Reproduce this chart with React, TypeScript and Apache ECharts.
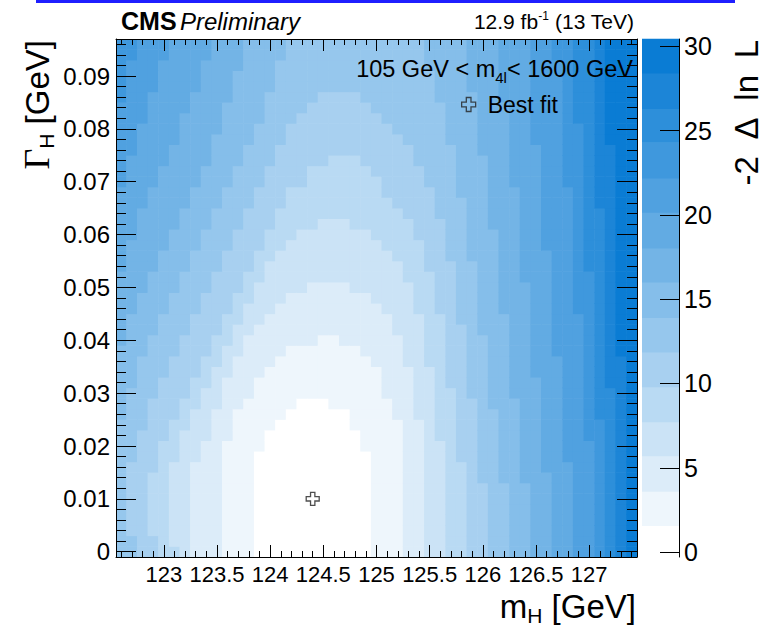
import { useEffect, useRef } from "react";
import * as echarts from "echarts";

const FONT = '"Liberation Sans", Arial, Helvetica, sans-serif';
const SERIF = '"Liberation Serif", "DejaVu Serif", serif';

// Scan binning: m_H (GeV) along x, Γ_H (GeV) along y
const massMin = 122.55;
const massMax = 127.45;
const massStep = 0.1;
const massBins = 49;
const widthMin = -0.001;
const widthMax = 0.097;
const widthStep = 0.002;
const widthBins = 49;

const massTicks = [123, 123.5, 124, 124.5, 125, 125.5, 126, 126.5, 127];
const widthTicks = [0, 0.01, 0.02, 0.03, 0.04, 0.05, 0.06, 0.07, 0.08, 0.09];
const nllTicks = [0, 5, 10, 15, 20, 25, 30];

// -2ΔlnL palette: range and the upper edge of each colour band
const nllRange = [-0.29, 30.43];
const contourLevels = [1.56, 3.6, 5.7, 7.72, 9.79, 11.86, 13.9, 16.0, 18.03, 20.15, 22.17, 24.29, 26.3, 28.4];
const bandColors = [
  "#ffffff", "#eef6fc", "#dcecf9", "#cbe3f6", "#b9daf3", "#a8d0f0", "#96c7ed", "#85beea",
  "#73b4e6", "#62abe3", "#50a1e0", "#3f98dd", "#2d8fda", "#1c85d7", "#0a7cd4",
];

// Contour regions (band < n for the n-th entry), described as staircases over the bins:
// highest Γ row reached, and [from row, column] steps of the left and right edges.
const contourTop = [14, 20, 25, 31, 37, 43, 48, 48, 48, 48, 48, 48, 48, 48];
const contourLeft = [
  [[0, 13], [10, 14], [12, 15], [13, 16], [14, 17]],
  [[0, 10], [11, 11], [14, 12], [15, 13], [17, 14], [18, 15], [19, 16], [20, 19]],
  [[0, 7], [9, 8], [11, 9], [14, 10], [17, 11], [19, 12], [21, 13], [22, 14], [23, 15], [24, 16], [25, 18]],
  [[0, 6], [1, 5], [9, 6], [12, 7], [14, 8], [16, 9], [18, 10], [20, 11], [22, 12], [24, 13], [26, 14], [28, 15], [29, 16], [30, 17], [31, 19]],
  [[0, 4], [2, 3], [8, 4], [11, 5], [13, 6], [15, 7], [17, 8], [19, 9], [21, 10], [23, 11], [25, 12], [27, 13], [29, 14], [31, 15], [33, 16], [35, 18], [37, 20]],
  [[0, 2], [2, 1], [9, 2], [12, 3], [15, 4], [17, 5], [19, 6], [21, 7], [23, 8], [25, 9], [27, 10], [29, 11], [31, 12], [33, 13], [35, 14], [37, 15], [39, 16], [41, 17], [42, 18], [43, 19]],
  [[0, 0], [13, 1], [16, 2], [19, 3], [21, 4], [23, 5], [25, 6], [27, 7], [29, 8], [31, 9], [33, 10], [35, 11], [37, 12], [39, 13], [41, 14], [44, 15], [47, 16]],
  [[0, 0], [20, 1], [23, 2], [25, 3], [27, 4], [29, 5], [31, 6], [33, 7], [35, 8], [37, 9], [40, 10], [43, 11], [46, 12]],
  [[0, 0], [27, 1], [30, 2], [33, 3], [35, 4], [37, 5], [39, 6], [42, 7], [44, 8], [47, 9]],
  [[0, 0], [35, 1], [38, 2], [41, 3], [44, 4], [47, 5]],
  [[0, 0], [43, 1], [47, 2]],
  [[0, 0]],
  [[0, 0]],
  [[0, 0]],
];
const contourRight = [
  [[0, 23], [10, 22], [12, 21], [14, 19]],
  [[0, 26], [13, 25], [15, 24], [18, 23], [19, 22], [20, 20]],
  [[0, 28], [13, 27], [18, 26], [21, 25], [23, 24], [24, 23], [25, 21]],
  [[0, 30], [11, 29], [18, 28], [23, 27], [26, 26], [28, 25], [29, 24], [30, 23], [31, 21]],
  [[0, 32], [9, 31], [16, 30], [23, 29], [27, 28], [30, 27], [32, 26], [33, 25], [34, 24], [36, 23], [37, 22]],
  [[0, 34], [7, 33], [15, 32], [22, 31], [28, 30], [32, 29], [35, 28], [37, 27], [39, 26], [40, 25], [41, 24], [42, 23], [43, 22]],
  [[0, 36], [7, 35], [14, 34], [21, 33], [28, 32], [34, 31], [39, 30], [43, 29], [46, 28]],
  [[0, 38], [7, 37], [15, 36], [23, 35], [31, 34], [38, 33], [44, 32]],
  [[0, 40], [8, 39], [17, 38], [26, 37], [35, 36], [43, 35]],
  [[0, 42], [9, 41], [19, 40], [29, 39], [39, 38]],
  [[0, 44], [11, 43], [23, 42], [35, 41], [47, 40]],
  [[0, 45], [13, 44], [27, 43], [41, 42]],
  [[0, 46], [16, 45], [33, 44]],
  [[0, 47], [19, 46], [39, 45]],
];

const bestFit = [124.4, 0.01];

const CROSS = "path://M4,0H8V4H12V8H8V12H4V8H0V4H4Z";

function edgeAt(steps: number[][], row: number): number {
  let col = steps[0][1];
  for (const [from, c] of steps) if (row >= from) col = c;
  return col;
}

function buildCells(): number[][] {
  const cells: number[][] = [];
  for (let k = 0; k < massBins; k++) {
    for (let i = 0; i < widthBins; i++) {
      let band = 0;
      for (let n = 0; n < contourTop.length; n++) {
        const inside =
          i <= contourTop[n] && k >= edgeAt(contourLeft[n], i) && k <= edgeAt(contourRight[n], i);
        if (!inside) band++;
      }
      const m = Math.round((massMin + massStep * (k + 0.5)) * 1000) / 1000;
      const w = Math.round((widthMin + widthStep * (i + 0.5)) * 100000) / 100000;
      cells.push([m, w, band]);
    }
  }
  return cells;
}

function buildPalette(): number[][] {
  const rows: number[][] = [];
  for (let b = 0; b < bandColors.length; b++) {
    const lo = b === 0 ? nllRange[0] : contourLevels[b - 1];
    const hi = b === contourLevels.length ? nllRange[1] : contourLevels[b];
    rows.push([0.5, lo, hi, b]);
  }
  return rows;
}

function buildOption() {
  const black = { color: "#000", width: 1 };
  const massAxis = {
    type: "value",
    gridIndex: 0,
    min: massMin,
    max: massMax,
    splitNumber: 10,
    z: 10,
    axisLine: { show: true, onZero: false, lineStyle: black },
    axisTick: { show: true, inside: true, length: 12, customValues: massTicks, lineStyle: black },
    minorTick: { show: true, splitNumber: 5, length: 6, lineStyle: black },
    splitLine: { show: false },
    minorSplitLine: { show: false },
  };
  const widthAxis = {
    type: "value",
    gridIndex: 0,
    min: widthMin,
    max: widthMax,
    splitNumber: 10,
    z: 10,
    axisLine: { show: true, onZero: false, lineStyle: black },
    axisTick: { show: true, inside: true, length: 20, customValues: widthTicks, lineStyle: black },
    minorTick: { show: true, splitNumber: 5, length: 10, lineStyle: black },
    splitLine: { show: false },
    minorSplitLine: { show: false },
  };

  const label = (text: string) => ({ text, fill: "#000", fontFamily: FONT });

  return {
    animation: false,
    backgroundColor: "#ffffff",
    grid: [
      { left: 116, top: 39, width: 521, height: 518 },
      { left: 642, top: 39, width: 37, height: 518 },
    ],
    xAxis: [
      {
        ...massAxis,
        position: "bottom",
        axisLabel: {
          customValues: massTicks,
          formatter: (v: number) => String(v),
          fontSize: 22,
          fontFamily: FONT,
          color: "#000",
          margin: 6,
        },
      },
      { ...massAxis, position: "top", axisLabel: { show: false } },
      { type: "value", gridIndex: 1, min: 0, max: 1, show: false },
    ],
    yAxis: [
      {
        ...widthAxis,
        position: "left",
        axisLabel: {
          customValues: widthTicks,
          formatter: (v: number) => (v === 0 ? "0" : v.toFixed(2)),
          fontSize: 24,
          fontFamily: FONT,
          color: "#000",
          margin: 6,
        },
      },
      { ...widthAxis, position: "right", axisLabel: { show: false } },
      {
        type: "value",
        gridIndex: 1,
        min: nllRange[0],
        max: nllRange[1],
        position: "right",
        splitNumber: 6,
        z: 10,
        axisLine: { show: true, onZero: false, lineStyle: black },
        axisTick: { show: true, inside: true, length: 19, customValues: nllTicks, lineStyle: black },
        axisLabel: {
          customValues: nllTicks,
          fontSize: 25,
          fontFamily: FONT,
          color: "#000",
          margin: 5,
        },
        splitLine: { show: false },
      },
    ],
    legend: {
      data: [{ name: "Best fit", icon: CROSS }],
      left: 456,
      top: 88,
      z: 20,
      itemWidth: 14,
      itemHeight: 14,
      textStyle: { fontSize: 23, fontFamily: FONT, color: "#000", padding: [0, 0, 0, 7] },
      itemStyle: { color: "rgba(0,0,0,0)", borderColor: "#222", borderWidth: 1.3 },
    },
    series: [
      {
        type: "custom",
        name: "scan",
        xAxisIndex: 0,
        yAxisIndex: 0,
        silent: true,
        clip: true,
        encode: { x: 0, y: 1 },
        data: buildCells(),
        renderItem: (_params: any, api: any) => {
          const m = api.value(0);
          const w = api.value(1);
          const band = api.value(2);
          const a = api.coord([m - massStep / 2, w + widthStep / 2]);
          const b = api.coord([m + massStep / 2, w - widthStep / 2]);
          return {
            type: "rect",
            shape: { x: a[0] - 0.3, y: a[1] - 0.3, width: b[0] - a[0] + 0.6, height: b[1] - a[1] + 0.6 },
            style: { fill: bandColors[band] },
          };
        },
        z: 1,
      },
      {
        type: "custom",
        name: "palette",
        xAxisIndex: 2,
        yAxisIndex: 2,
        silent: true,
        encode: { x: 0, y: 1 },
        data: buildPalette(),
        renderItem: (_params: any, api: any) => {
          const a = api.coord([0, api.value(2)]);
          const b = api.coord([1, api.value(1)]);
          return {
            type: "rect",
            shape: { x: a[0], y: a[1] - 0.3, width: b[0] - a[0], height: b[1] - a[1] + 0.6 },
            style: { fill: bandColors[api.value(3)] },
          };
        },
        z: 1,
      },
      {
        type: "scatter",
        name: "Best fit",
        xAxisIndex: 0,
        yAxisIndex: 0,
        symbol: CROSS,
        symbolSize: 13,
        data: [bestFit],
        itemStyle: { color: "rgba(0,0,0,0)", borderColor: "#222", borderWidth: 1.3 },
        z: 5,
      },
    ],
    graphic: [
      { type: "rect", z: 100, shape: { x: 36, y: 0, width: 699, height: 3 }, style: { fill: "#1f1fff" } },
      {
        type: "text",
        z: 100,
        x: 121,
        y: 21,
        style: {
          ...label("{b|CMS} {i|Preliminary}"),
          verticalAlign: "middle",
          rich: {
            b: { fontSize: 25, fontWeight: "bold", fontFamily: FONT, fill: "#000" },
            i: { fontSize: 24, fontStyle: "italic", fontFamily: FONT, fill: "#000" },
          },
        },
      },
      {
        type: "text",
        z: 100,
        x: 634,
        y: 21,
        style: {
          ...label("{n|12.9 fb}{s|-1}{n| (13 TeV)}"),
          align: "right",
          verticalAlign: "middle",
          rich: {
            n: { fontSize: 21, fontFamily: FONT, fill: "#000", lineHeight: 23 },
            s: { fontSize: 12, fontFamily: FONT, fill: "#000", verticalAlign: "top", lineHeight: 12 },
          },
        },
      },
      {
        type: "text",
        z: 100,
        x: 633,
        y: 69,
        style: {
          ...label("{n|105 GeV < m}{s|4l}{n|< 1600 GeV}"),
          align: "right",
          verticalAlign: "middle",
          rich: {
            n: { fontSize: 23.5, fontFamily: FONT, fill: "#000", lineHeight: 31 },
            s: { fontSize: 15, fontFamily: FONT, fill: "#000", verticalAlign: "bottom", lineHeight: 15 },
          },
        },
      },
      {
        type: "text",
        z: 100,
        x: 636,
        y: 606,
        style: {
          ...label("{n|m}{s|H}{n| [GeV]}"),
          align: "right",
          verticalAlign: "middle",
          rich: {
            n: { fontSize: 33, fontFamily: FONT, fill: "#000", lineHeight: 40 },
            s: { fontSize: 21, fontFamily: FONT, fill: "#000", verticalAlign: "bottom", lineHeight: 21 },
          },
        },
      },
      {
        type: "text",
        z: 100,
        x: 37,
        y: 40,
        rotation: Math.PI / 2,
        style: {
          ...label("{g|Γ}{s|H}{n| [GeV]}"),
          align: "right",
          verticalAlign: "middle",
          rich: {
            g: { fontSize: 36, fontFamily: SERIF, fill: "#000", lineHeight: 40 },
            n: { fontSize: 33, fontFamily: FONT, fill: "#000", lineHeight: 40 },
            s: { fontSize: 21, fontFamily: FONT, fill: "#000", verticalAlign: "bottom", lineHeight: 21 },
          },
        },
      },
      {
        type: "text",
        z: 100,
        x: 746,
        y: 40,
        rotation: Math.PI / 2,
        style: {
          ...label("{n|-2}{w| }{n|Δ}{w| }{n|ln}{w| }{n|L}"),
          align: "right",
          verticalAlign: "middle",
          rich: {
            n: { fontSize: 33, fontFamily: FONT, fill: "#000", lineHeight: 33 },
            w: { fontSize: 60, fontFamily: FONT, fill: "#000", lineHeight: 33 },
          },
        },
      },
    ],
  };
}

export default function App() {
  const ref = useRef<HTMLDivElement>(null);
  useEffect(() => {
    if (!ref.current) return;
    const chart = echarts.init(ref.current, undefined, { renderer: "svg" });
    chart.setOption(buildOption() as any);
    return () => chart.dispose();
  }, []);
  return (
    <div
      ref={ref}
      style={{ position: "fixed", left: 0, top: 0, width: 764, height: 629, background: "#fff" }}
    />
  );
}
